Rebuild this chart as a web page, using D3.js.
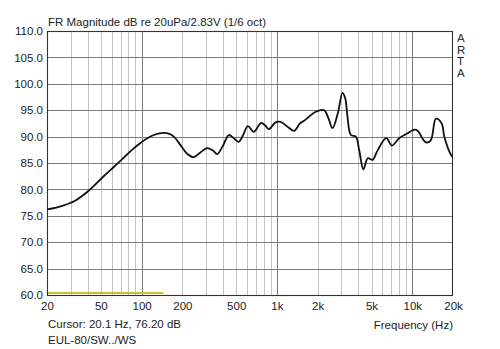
<!DOCTYPE html>
<html>
<head>
<meta charset="utf-8">
<script src="https://cdn.jsdelivr.net/npm/d3@7"></script>
<style>
  html, body { margin: 0; padding: 0; background: #fff; }
  svg { display: block; }
  text { font-family: "Liberation Sans", Arial, sans-serif; fill: #222; }
</style>
</head>
<body>
<svg id="chart" width="500" height="349"></svg>
<script>
// Frequency response (1/6 octave smoothed)
const freqHz = [20, 26, 32, 40, 52, 62, 71, 85, 98, 110, 123, 135, 147, 160, 173, 195, 216, 243, 272, 305,
  335, 362, 400, 441, 480, 522, 560, 610, 674, 765, 820, 872, 977, 1064, 1194, 1338, 1480, 1588, 1937, 2234,
  2400, 2575, 2818, 3050, 3200, 3320, 3520, 3830, 4050, 4356, 4692, 5092, 5520, 6420, 7080, 8000, 9200, 10300,
  10950, 12000, 12600, 13700, 14960, 16500, 17240, 19260, 20000];
const magDb = [76.2, 76.9, 77.8, 79.6, 82.4, 84.2, 85.6, 87.5, 88.8, 89.7, 90.3, 90.6, 90.7, 90.5, 90.0, 88.3, 86.8, 86.1, 87.0, 87.8,
  87.4, 86.7, 88.3, 90.3, 89.7, 89.0, 90.2, 92.0, 90.9, 92.6, 92.1, 91.4, 92.7, 92.8, 91.9, 91.1, 92.5, 93.0, 94.7, 95.0,
  93.5, 91.6, 94.4, 98.3, 97.2, 93.8, 90.3, 90.0, 87.5, 83.8, 85.9, 85.6, 87.3, 89.7, 88.3, 89.7, 90.6, 91.3,
  91.1, 89.5, 88.9, 89.3, 93.4, 92.5, 90.0, 86.6, 86.1];

// Marker band along the bottom
const markerHz = [20, 145];
const markerDb = [60.4, 60.4];

const xTickVals = [20, 50, 100, 200, 500, 1000, 2000, 5000, 10000, 20000];
const xTickText = ["20", "50", "100", "200", "500", "1k", "2k", "5k", "10k", "20k"];
const yTickVals = [60, 65, 70, 75, 80, 85, 90, 95, 100, 105, 110];

const svg = d3.select("#chart");
const L = 47, R = 453, T = 31, B = 295;

const x = d3.scaleLog().domain([20, 20000]).range([L, R]);
const y = d3.scaleLinear().domain([60, 110]).range([B, T]);

// grid: minor verticals (2..9 within each decade)
const minor = [];
[10, 100, 1000, 10000].forEach(dec => {
  for (let k = 2; k <= 9; k++) {
    const f = dec * k;
    if (f > 20 && f < 20000) minor.push(f);
  }
});
const grid = svg.append("g");
grid.selectAll("line.minor").data(minor)
  .join("line")
  .attr("x1", d => Math.round(x(d)) + 0.5).attr("x2", d => Math.round(x(d)) + 0.5)
  .attr("y1", T).attr("y2", B)
  .attr("stroke", "#c4c4c4").attr("stroke-width", 1);
grid.selectAll("line.major").data([100, 1000, 10000])
  .join("line")
  .attr("x1", d => Math.round(x(d)) + 0.5).attr("x2", d => Math.round(x(d)) + 0.5)
  .attr("y1", T).attr("y2", B)
  .attr("stroke", "#7a7a7a").attr("stroke-width", 1);
grid.selectAll("line.h").data(yTickVals.filter(v => v > 60 && v < 110))
  .join("line")
  .attr("x1", L).attr("x2", R)
  .attr("y1", d => Math.round(y(d)) + 0.5).attr("y2", d => Math.round(y(d)) + 0.5)
  .attr("stroke", "#7a7a7a").attr("stroke-width", 1);

// marker band
svg.append("path")
  .datum(d3.zip(markerHz, markerDb))
  .attr("d", d3.line().x(d => x(d[0])).y(d => y(d[1])))
  .attr("stroke", "#c8c22a").attr("stroke-width", 2).attr("fill", "none");

// frame
svg.append("rect")
  .attr("x", L + 0.5).attr("y", T + 0.5)
  .attr("width", R - L - 1).attr("height", B - T)
  .attr("fill", "none").attr("stroke", "#333").attr("stroke-width", 1.1);

// response curve
svg.append("defs").append("clipPath").attr("id", "plotclip")
  .append("rect").attr("x", L).attr("y", T).attr("width", R - L).attr("height", B - T);
svg.append("path")
  .datum(d3.zip(freqHz, magDb))
  .attr("clip-path", "url(#plotclip)")
  .attr("d", d3.line().x(d => x(d[0])).y(d => y(d[1])).curve(d3.curveCatmullRom.alpha(0.5)))
  .attr("stroke", "#111").attr("stroke-width", 1.8).attr("fill", "none")
  .attr("stroke-linejoin", "round");

// axes (labels only)
const xAxis = d3.axisBottom(x).tickValues(xTickVals)
  .tickFormat((d, i) => xTickText[i]).tickSize(0).tickPadding(7);
const gx = svg.append("g").attr("transform", `translate(0,${B})`).call(xAxis);
gx.select(".domain").remove();
gx.selectAll("text").attr("font-size", 11.5).attr("fill", "#222")
  .attr("font-family", "Liberation Sans, Arial, sans-serif");

const yAxis = d3.axisLeft(y).tickValues(yTickVals)
  .tickFormat(d3.format(".1f")).tickSize(0).tickPadding(4);
const gy = svg.append("g").attr("transform", `translate(${L},0)`).call(yAxis);
gy.select(".domain").remove();
gy.selectAll("text").attr("font-size", 11.5).attr("fill", "#222")
  .attr("font-family", "Liberation Sans, Arial, sans-serif");

// titles
svg.append("text").attr("x", 48).attr("y", 26).attr("font-size", 11.5).attr("fill", "#222")
  .text("FR Magnitude dB re 20uPa/2.83V (1/6 oct)");
svg.append("text").attr("x", 453).attr("y", 329).attr("font-size", 11.5).attr("fill", "#222")
  .attr("text-anchor", "end").text("Frequency (Hz)");
svg.append("text").attr("x", 48).attr("y", 328).attr("font-size", 11.5).attr("fill", "#222")
  .text("Cursor: 20.1 Hz, 76.20 dB");
svg.append("text").attr("x", 48).attr("y", 344).attr("font-size", 11.5).attr("fill", "#222")
  .text("EUL-80/SW../WS");

// vertical brand letters
["A", "R", "T", "A"].forEach((c, i) => {
  svg.append("text").attr("x", 457).attr("y", 42 + i * 11.5).attr("fill", "#222")
    .attr("font-size", 11.5).style("text-rendering", "geometricPrecision").text(c);
});
</script>
</body>
</html>
